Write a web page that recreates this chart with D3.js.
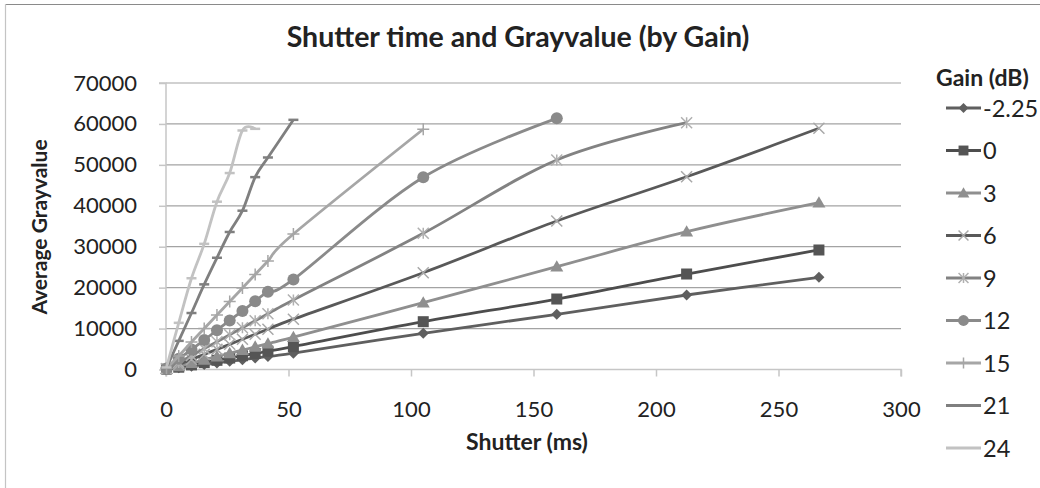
<!DOCTYPE html>
<html><head><meta charset="utf-8">
<script src="https://cdn.jsdelivr.net/npm/d3@7"></script>
<style>
html,body{margin:0;padding:0;background:#fff;}
svg{display:block;font-family:Lato,"Open Sans",sans-serif;}
</style></head>
<body><svg id="chart" width="1040" height="488"></svg>
<script>
// ---- data ----
const shutter = [0.2, 5.2, 10.4, 15.6, 20.8, 26, 31.2, 36.4, 41.6, 52, 105, 159.5, 212.5, 266.5];
const gains = ["-2.25", "0", "3", "6", "9", "12", "15", "21", "24"];
const gainM2_25 = [60, 400, 800, 1200, 1600, 2000, 2400, 2800, 3200, 4000, 8840, 13490, 18200, 22530];
const gain0 = [80, 560, 1120, 1680, 2240, 2800, 3360, 3920, 4480, 5600, 11680, 17220, 23330, 29200];
const gain3 = [110, 790, 1580, 2370, 3160, 3950, 4740, 5530, 6320, 7900, 16320, 25120, 33670, 40750];
const gain6 = [150, 1230, 2460, 3690, 4920, 6150, 7380, 8610, 9840, 12300, 23650, 36280, 47100, 58930];
const gain9 = [200, 1700, 3400, 5100, 6800, 8500, 10200, 11900, 13600, 17000, 33270, 51190, 60300];
const gain12 = [250, 2600, 4900, 7200, 9600, 12000, 14300, 16700, 19000, 22000, 46960, 61370];
const gain15 = [300, 3300, 6700, 10000, 13300, 16600, 19900, 23200, 26500, 33100, 58700];
const gain21 = [400, 7000, 13800, 20800, 27300, 33600, 38800, 47000, 51800, 61000];
const gain24 = [500, 11400, 22300, 30700, 41000, 48000, 58400, 58800];
const xTicks = [0, 50, 100, 150, 200, 250, 300];
const yTicks = [0, 10000, 20000, 30000, 40000, 50000, 60000, 70000];
const chartTitle = "Shutter time and Grayvalue (by Gain)";
const xTitle = "Shutter (ms)";
const yTitle = "Average Grayvalue";
const legendTitle = "Gain (dB)";

const seriesValues = [gainM2_25, gain0, gain3, gain6, gain9, gain12, gain15, gain21, gain24];

// ---- styles ----
const styles = [
  {line:"#5f5f5f", mark:"diamond", fill:"#5f5f5f"},
  {line:"#4d4d4d", mark:"square", fill:"#555555"},
  {line:"#8f8f8f", mark:"triangle", fill:"#8f8f8f"},
  {line:"#595959", mark:"x", fill:"#a8a8a8"},
  {line:"#828282", mark:"star", fill:"#b0b0b0"},
  {line:"#8a8a8a", mark:"circle", fill:"#8a8a8a"},
  {line:"#a6a6a6", mark:"plus", fill:"#a6a6a6"},
  {line:"#7f7f7f", mark:"dash", fill:"#7f7f7f"},
  {line:"#c2c2c2", mark:"dash", fill:"#c2c2c2"}
];

const svg = d3.select("#chart");
const L = 166, R = 901, T = 83, B = 369.5;
const x = d3.scaleLinear().domain([0, 300]).range([L, R]);
const y = d3.scaleLinear().domain([0, 70000]).range([B, T]);

// outer border (top/left visible)
svg.append("line").attr("x1",5).attr("x2",1040).attr("y1",4.5).attr("y2",4.5).attr("stroke","#8a8a8a").attr("stroke-width",1.2);
svg.append("line").attr("x1",5.5).attr("x2",5.5).attr("y1",4).attr("y2",488).attr("stroke","#c4c4c4").attr("stroke-width",1.2);

// gridlines
svg.append("g").selectAll("line").data(yTicks.filter(d => d > 0)).join("line")
  .attr("x1", L).attr("x2", R).attr("y1", d => y(d)).attr("y2", d => y(d))
  .attr("stroke", "#a3a3a3").attr("stroke-width", 1.2);

// axes
const yAxis = svg.append("g").attr("transform", `translate(${L},0)`)
  .call(d3.axisLeft(y).tickValues(yTicks).tickFormat(d3.format("d")).tickSize(7).tickPadding(22));
const xAxis = svg.append("g").attr("transform", `translate(0,${B})`)
  .call(d3.axisBottom(x).tickValues(xTicks).tickFormat(d3.format("d")).tickSize(7).tickPadding(25));
[yAxis, xAxis].forEach(g => {
  g.select(".domain").attr("stroke", "#c6c6c6").attr("stroke-width", 1.5);
  g.selectAll(".tick line").attr("stroke", "#c6c6c6").attr("stroke-width", 1.5);
  g.selectAll(".tick text").attr("fill", "#222").style("font-size", "22px").style("font-family", "Lato");
});
yAxis.select(".domain").attr("d", `M-7,${T}H0V${B}`);
xAxis.select(".domain").attr("d", `M${L},7V0H${R}V7`);

// marker drawing
function drawMarker(g, kind, color, cx, cy, scale) {
  const s = scale || 1;
  if (kind === "diamond") {
    const r = 5.5 * s;
    g.append("path").attr("d", `M${cx},${cy-r}L${cx+r},${cy}L${cx},${cy+r}L${cx-r},${cy}Z`).attr("fill", color);
  } else if (kind === "square") {
    const r = 5.5 * s;
    g.append("rect").attr("x", cx-r).attr("y", cy-r).attr("width", 2*r).attr("height", 2*r).attr("fill", color);
  } else if (kind === "triangle") {
    const r = 6.5 * s;
    g.append("path").attr("d", `M${cx},${cy-r}L${cx+r},${cy+r*0.75}L${cx-r},${cy+r*0.75}Z`).attr("fill", color);
  } else if (kind === "circle") {
    g.append("circle").attr("cx", cx).attr("cy", cy).attr("r", 6 * s).attr("fill", color);
  } else if (kind === "x" || kind === "star") {
    const r = 5.5 * s;
    g.append("path").attr("d", `M${cx-r},${cy-r}L${cx+r},${cy+r}M${cx-r},${cy+r}L${cx+r},${cy-r}` + (kind === "star" ? `M${cx},${cy-r}V${cy+r}` : ""))
      .attr("stroke", color).attr("stroke-width", 1.5).attr("fill", "none");
  } else if (kind === "plus") {
    const r = 6 * s;
    g.append("path").attr("d", `M${cx-r},${cy}H${cx+r}M${cx},${cy-r}V${cy+r}`)
      .attr("stroke", color).attr("stroke-width", 1.5).attr("fill", "none");
  } else if (kind === "dash") {
    const r = 5 * s;
    g.append("path").attr("d", `M${cx-r},${cy}H${cx+r}`)
      .attr("stroke", color).attr("stroke-width", 2.5).attr("fill", "none");
  }
}

const line = d3.line().x(d => x(d[0])).y(d => y(d[1])).curve(d3.curveCardinal.tension(0));

const plot = svg.append("g");
seriesValues.forEach((vals, i) => {
  const pts = vals.map((v, j) => [shutter[j], v]);
  const st = styles[i];
  const g = plot.append("g");
  g.append("path").attr("d", line(pts)).attr("fill", "none").attr("stroke", st.line)
    .attr("stroke-width", 2.8).attr("stroke-linejoin", "round");
  pts.forEach(p => drawMarker(g, st.mark, st.fill, x(p[0]), y(p[1])));
});

// titles
svg.append("text").attr("x", 518).attr("y", 47).attr("text-anchor", "middle")
  .style("font-size", "28.5px").style("font-weight", "bold").attr("fill", "#222").text(chartTitle);
svg.append("text").attr("x", 527).attr("y", 450).attr("text-anchor", "middle")
  .style("font-size", "23px").style("font-weight", "bold").attr("fill", "#222").text(xTitle);
svg.append("text").attr("transform", "translate(47,227) rotate(-90)").attr("text-anchor", "middle")
  .style("font-size", "21px").style("font-weight", "bold").attr("fill", "#222").text(yTitle);

// legend
svg.append("text").attr("x", 936).attr("y", 86).style("font-size", "23px").style("font-weight", "bold")
  .attr("fill", "#222").text(legendTitle);
const leg = svg.append("g");
gains.forEach((gn, i) => {
  const ly = 108 + i * 42.5;
  const st = styles[i];
  const g = leg.append("g");
  g.append("line").attr("x1", 946).attr("x2", 981).attr("y1", ly).attr("y2", ly)
    .attr("stroke", st.line).attr("stroke-width", 2.8);
  if (st.mark !== "dash") drawMarker(g, st.mark, st.fill, 963.5, ly, 0.9);
  g.append("text").attr("x", 983).attr("y", ly + 8.5).style("font-size", "23.5px").attr("fill", "#222").text(gn);
});
</script></body></html>
